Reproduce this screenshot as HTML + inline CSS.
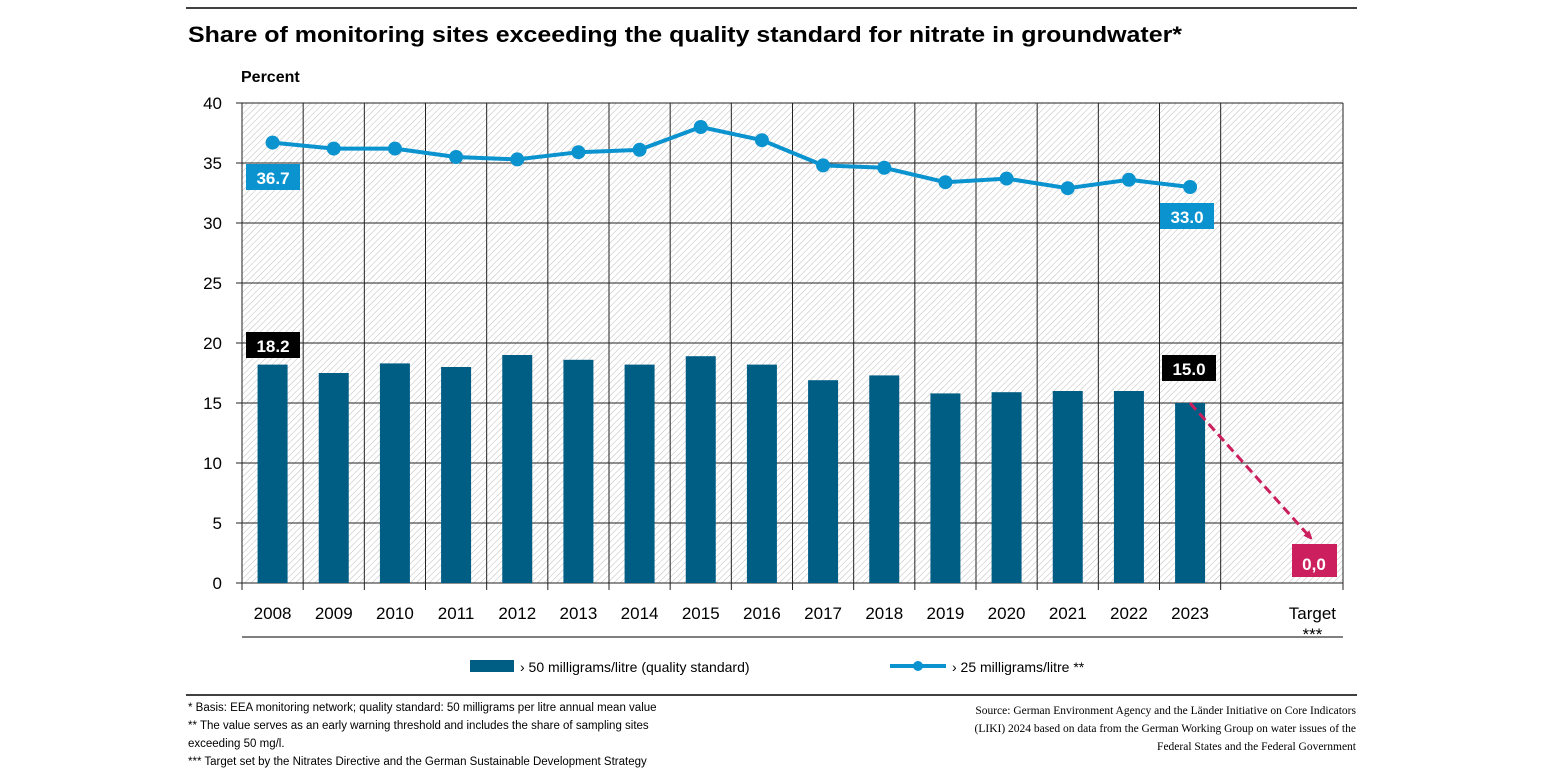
<!DOCTYPE html>
<html><head><meta charset="utf-8"><style>
body{margin:0;background:#fff;font-family:"Liberation Sans",sans-serif;}
</style></head><body>
<svg width="1545" height="775" xmlns="http://www.w3.org/2000/svg" font-family="Liberation Sans, sans-serif">
<defs>
<pattern id="h" width="4.5" height="4.5" patternUnits="userSpaceOnUse" patternTransform="rotate(45)">
<rect width="5" height="5" fill="#fff"/><line x1="0" y1="0" x2="0" y2="5" stroke="#bdbdbd" stroke-width="1"/>
</pattern>
<marker id="ar" markerWidth="8" markerHeight="8" refX="4" refY="4" orient="auto" markerUnits="userSpaceOnUse"><path d="M0,0 L10,4 L0,8z" fill="#cc1f5e"/></marker>
</defs>
<line x1="186" y1="8" x2="1357" y2="8" stroke="#000" stroke-width="1.5"/>
<text x="188" y="42" font-size="22" font-weight="bold" textLength="994" lengthAdjust="spacingAndGlyphs">Share of monitoring sites exceeding the quality standard for nitrate in groundwater*</text>
<text x="241" y="82" font-size="16" font-weight="bold">Percent</text>
<rect x="242" y="103" width="1101" height="480" fill="url(#h)"/>
<g stroke="#222" stroke-width="1" id="grid"></g>
<g id="yl" font-size="17" text-anchor="end"></g>
<g id="bars"></g>
<g id="xl" font-size="17" text-anchor="middle"></g>
<line x1="242" y1="637" x2="1343" y2="637" stroke="#000" stroke-width="1"/>
<g id="line"></g>
<rect x="246" y="164" width="54" height="26" fill="#0a93cf"/><text x="273" y="184" font-size="17" font-weight="bold" fill="#fff" text-anchor="middle">36.7</text>
<rect x="1160" y="203" width="54" height="26" fill="#0a93cf"/><text x="1187" y="223" font-size="17" font-weight="bold" fill="#fff" text-anchor="middle">33.0</text>
<rect x="246" y="332" width="54" height="26" fill="#000"/><text x="273" y="352" font-size="17" font-weight="bold" fill="#fff" text-anchor="middle">18.2</text>
<rect x="1162" y="355" width="54" height="26" fill="#000"/><text x="1189" y="375" font-size="17" font-weight="bold" fill="#fff" text-anchor="middle">15.0</text>
<line x1="1190" y1="403" x2="1309" y2="536" stroke="#cc1f5e" stroke-width="3" stroke-dasharray="9,5" marker-end="url(#ar)"/>
<rect x="1292" y="544" width="45" height="33" fill="#cc1f5e"/><text x="1314" y="570" font-size="17" font-weight="bold" fill="#fff" text-anchor="middle">0,0</text>
<rect x="470" y="660" width="44" height="12" fill="#005e85"/>
<text x="520" y="672" font-size="14">› 50 milligrams/litre (quality standard)</text>
<line x1="890" y1="666" x2="946" y2="666" stroke="#0a93cf" stroke-width="4"/><circle cx="918" cy="666" r="5" fill="#0a93cf"/>
<text x="952" y="672" font-size="14">› 25 milligrams/litre **</text>
<line x1="186" y1="695" x2="1357" y2="695" stroke="#000" stroke-width="1.5"/>
<g font-size="11.5" font-family="Liberation Serif, serif">
<text x="188" y="711" font-family="Liberation Sans, sans-serif">* Basis: EEA monitoring network; quality standard:  50 milligrams per litre annual mean value</text>
<text x="188" y="729" font-family="Liberation Sans, sans-serif">** The value serves as an early warning threshold and includes the share of sampling sites</text>
<text x="188" y="747" font-family="Liberation Sans, sans-serif">exceeding 50 mg/l.</text>
<text x="188" y="765" font-family="Liberation Sans, sans-serif">*** Target set by the Nitrates Directive and the German Sustainable Development Strategy</text>
<text x="1356" y="714" text-anchor="end">Source: German Environment Agency and the Länder Initiative on Core Indicators</text>
<text x="1356" y="732" text-anchor="end">(LIKI) 2024 based on data from the German Working Group on water issues of the</text>
<text x="1356" y="750" text-anchor="end">Federal States and the Federal Government</text>
</g>
</svg>
<script>
const ns="http://www.w3.org/2000/svg";
function el(p,t,a,txt){const e=document.createElementNS(ns,t);for(const k in a)e.setAttribute(k,a[k]);if(txt!=null)e.textContent=txt;document.getElementById(p).appendChild(e);return e;}
const X0=242,W=1101/18,Y=v=>583-12*v;
for(let v=0;v<=40;v+=5){el("grid","line",{x1:X0,x2:1343,y1:Y(v),y2:Y(v)});el("yl","text",{x:222,y:Y(v)+6},v);el("grid","line",{x1:236,x2:242,y1:Y(v),y2:Y(v)});}
for(let i=0;i<=18;i++){const x=X0+W*i;if(i==17)continue;el("grid","line",{x1:x,x2:x,y1:103,y2:590});}
const bars=[18.2,17.5,18.3,18.0,19.0,18.6,18.2,18.9,18.2,16.9,17.3,15.8,15.9,16.0,16.0,15.0];
const ln=[36.7,36.2,36.2,35.5,35.3,35.9,36.1,38.0,36.9,34.8,34.6,33.4,33.7,32.9,33.6,33.0];
let pts=[];
bars.forEach((b,i)=>{const c=X0+W*(i+0.5);el("bars","rect",{x:c-15,y:Y(b),width:30,height:12*b,fill:"#005e85"});el("xl","text",{x:c,y:619},2008+i);pts.push(c+","+Y(ln[i]));});
el("xl","text",{x:X0+W*17.5,y:619},"Target");el("xl","text",{x:X0+W*17.5,y:640},"***");
el("line","polyline",{points:pts.join(" "),fill:"none",stroke:"#0a93cf","stroke-width":4});
pts.forEach(p=>{const [x,y]=p.split(",");el("line","circle",{cx:x,cy:y,r:7,fill:"#0a93cf"});});
</script>
</body></html>
